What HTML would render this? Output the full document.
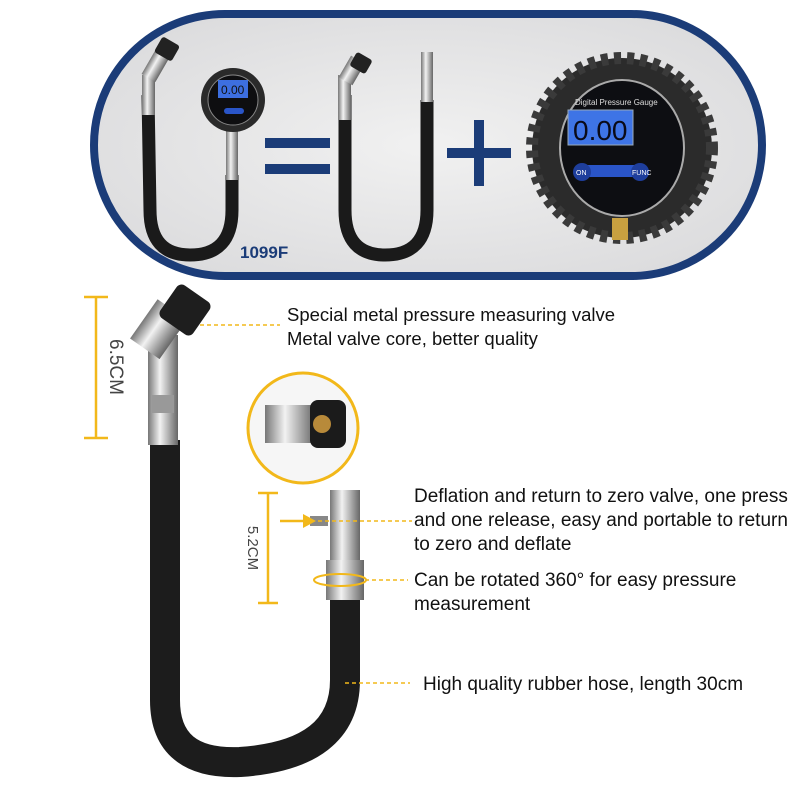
<!DOCTYPE html>
<html><head><meta charset="utf-8"><style>
html,body{margin:0;padding:0;background:#fff}
svg{display:block}
text{font-family:"Liberation Sans",sans-serif}
</style></head><body>
<svg width="800" height="800" viewBox="0 0 800 800" xmlns="http://www.w3.org/2000/svg">
<defs>
<linearGradient id="metal" x1="0" x2="1"><stop offset="0" stop-color="#777"/><stop offset=".4" stop-color="#f2f2f2"/><stop offset="1" stop-color="#666"/></linearGradient>
<radialGradient id="marble" cx=".5" cy=".5" r=".7"><stop offset="0" stop-color="#f1f1f1"/><stop offset="1" stop-color="#d8d8da"/></radialGradient>
</defs>
<rect x="94" y="14" width="668" height="262" rx="131" fill="url(#marble)" stroke="#1b3c78" stroke-width="8"/>
<path d="M148 95 L150 210 Q150 255 190 255 Q232 255 232 210 L232 175" fill="none" stroke="#1a1a1a" stroke-width="13"/>
<rect x="142" y="75" width="13" height="40" fill="url(#metal)"/>
<rect x="148" y="50" width="16" height="30" fill="url(#metal)" transform="rotate(30 156 65)"/>
<rect x="157" y="40" width="20" height="18" rx="3" fill="#222" transform="rotate(30 167 49)"/>
<rect x="226" y="130" width="12" height="50" fill="url(#metal)"/>
<circle cx="233" cy="100" r="32" fill="#2a2a2a"/>
<circle cx="233" cy="100" r="25" fill="#0e0e10" stroke="#888" stroke-width="1"/>
<rect x="218" y="80" width="30" height="18" fill="#3d6fe0"/>
<text x="221" y="94" font-size="12" fill="#111">0.00</text>
<rect x="224" y="108" width="20" height="6" rx="3" fill="#2a55c8"/>
<rect x="265" y="138" width="65" height="10" fill="#1b3c78"/>
<rect x="265" y="164" width="65" height="10" fill="#1b3c78"/>
<path d="M345 95 L345 210 Q345 255 385 255 Q427 255 427 210 L427 100" fill="none" stroke="#1a1a1a" stroke-width="13"/>
<rect x="338" y="75" width="13" height="45" fill="url(#metal)"/>
<rect x="344" y="58" width="16" height="25" fill="url(#metal)" transform="rotate(30 352 70)"/>
<rect x="352" y="55" width="18" height="16" rx="3" fill="#222" transform="rotate(30 361 63)"/>
<rect x="421" y="52" width="12" height="50" fill="url(#metal)"/>
<rect x="447" y="148" width="64" height="10" fill="#1b3c78"/>
<rect x="474" y="120" width="10" height="66" fill="#1b3c78"/>
<circle cx="622" cy="148" r="90" fill="#2b2b2b" stroke="#3a3a3a" stroke-width="12" stroke-dasharray="7 6"/>
<ellipse cx="622" cy="148" rx="62" ry="68" fill="#0d0e12" stroke="#aaa" stroke-width="2"/>
<text x="575" y="105" font-size="8" fill="#ddd">Digital Pressure Gauge</text>
<rect x="568" y="110" width="65" height="35" fill="#3e74e6" stroke="#9ab" stroke-width="1"/>
<text x="573" y="140" font-size="28" fill="#0a0a18" font-family="Liberation Mono">0.00</text>
<rect x="580" y="165" width="60" height="12" rx="6" fill="#2a55c8"/>
<circle cx="582" cy="172" r="9" fill="#1e3e9c"/><circle cx="640" cy="172" r="9" fill="#1e3e9c"/>
<text x="576" y="175" font-size="7" fill="#fff">ON</text><text x="632" y="175" font-size="7" fill="#fff">FUNC</text>
<rect x="612" y="218" width="16" height="22" fill="#c8a040"/>
<text x="240" y="258" font-size="17" font-weight="bold" fill="#1b3c78">1099F</text>

<path d="M165 440 L165 700 Q165 765 240 762 Q345 755 345 680 L345 595" fill="none" stroke="#1c1c1c" stroke-width="30"/>
<rect x="148" y="335" width="30" height="110" fill="url(#metal)"/>
<rect x="152" y="395" width="22" height="18" fill="#999"/>
<rect x="140" y="305" width="36" height="48" fill="url(#metal)" transform="rotate(35 158 330)"/>
<rect x="165" y="290" width="40" height="40" rx="6" fill="#1e1e1e" transform="rotate(35 185 310)"/>
<rect x="330" y="490" width="30" height="110" fill="url(#metal)"/>
<rect x="326" y="560" width="38" height="40" fill="url(#metal)"/>
<rect x="310" y="516" width="18" height="10" fill="#888"/>
<g stroke="#f2b81a" stroke-width="2.5" fill="none">
<line x1="96" y1="297" x2="96" y2="438"/><line x1="84" y1="297" x2="108" y2="297"/><line x1="84" y1="438" x2="108" y2="438"/>
<line x1="268" y1="493" x2="268" y2="603"/><line x1="258" y1="493" x2="278" y2="493"/><line x1="258" y1="603" x2="278" y2="603"/>
<line x1="280" y1="521" x2="305" y2="521"/>
</g>
<polygon points="303,514 316,521 303,528" fill="#f2b81a"/>
<g stroke="#f2b81a" stroke-width="1.5" stroke-dasharray="4 3">
<line x1="200" y1="325" x2="280" y2="325"/>
<line x1="318" y1="521" x2="412" y2="521"/>
<line x1="365" y1="580" x2="408" y2="580"/>
<line x1="345" y1="683" x2="410" y2="683"/>
</g>
<ellipse cx="340" cy="580" rx="26" ry="6" fill="none" stroke="#f2b81a" stroke-width="2"/>
<text transform="translate(110 367) rotate(90)" text-anchor="middle" font-size="19" fill="#444">6.5CM</text>
<text transform="translate(248 548) rotate(90)" text-anchor="middle" font-size="15" fill="#444">5.2CM</text>
<circle cx="303" cy="428" r="55" fill="#f6f6f6" stroke="#f2b81a" stroke-width="3"/>
<rect x="265" y="405" width="50" height="38" fill="url(#metal)"/>
<rect x="310" y="400" width="36" height="48" rx="8" fill="#1b1b1b"/>
<circle cx="322" cy="424" r="9" fill="#b88a3a"/>
<g fill="#111">
<text x="287" y="321" font-size="18.5">Special metal pressure measuring valve</text>
<text x="287" y="345" font-size="18.5">Metal valve core, better quality</text>
<g font-size="19">
<text x="414" y="502">Deflation and return to zero valve, one press</text>
<text x="414" y="526">and one release, easy and portable to return</text>
<text x="414" y="550">to zero and deflate</text>
<text x="414" y="586">Can be rotated 360° for easy pressure</text>
<text x="414" y="610">measurement</text>
<text x="423" y="690">High quality rubber hose, length 30cm</text>
</g>
</g>
</svg>
</body></html>
